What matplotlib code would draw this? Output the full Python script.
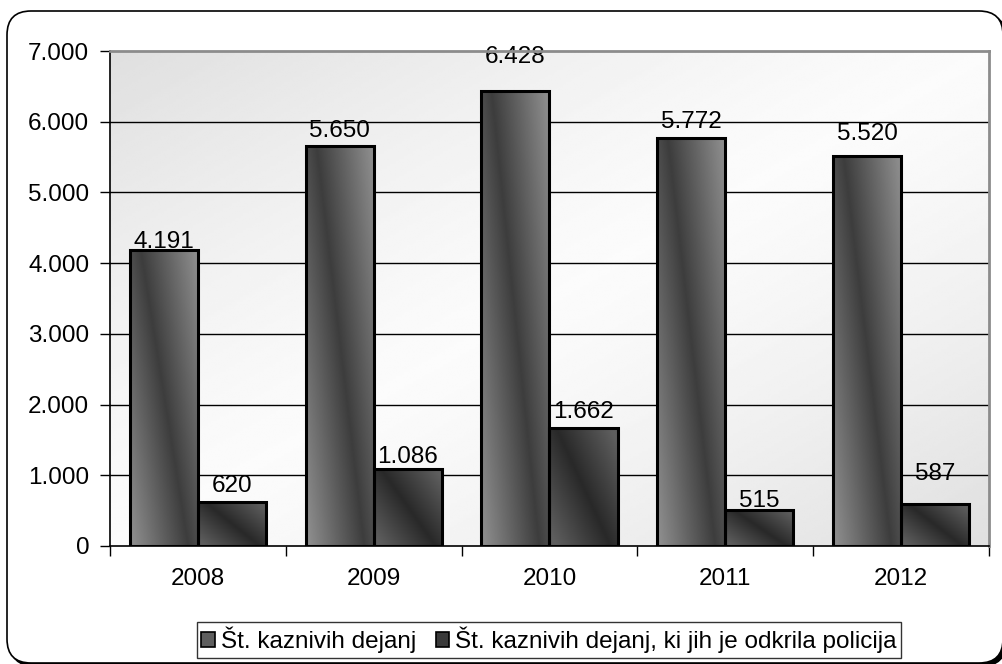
import numpy as np
import matplotlib
matplotlib.use("Agg")
import matplotlib.pyplot as plt
from matplotlib.patches import FancyBboxPatch, Rectangle
from matplotlib.transforms import IdentityTransform
from matplotlib.ticker import FuncFormatter, FixedLocator

plt.rcParams['font.family'] = ['Liberation Sans', 'DejaVu Sans']

years = ["2008", "2009", "2010", "2011", "2012"]
series_names = ["Št. kaznivih dejanj", "Št. kaznivih dejanj, ki jih je odkrila policija"]
total = [4191, 5650, 6428, 5772, 5520]
detected = [620, 1086, 1662, 515, 587]
y_ticks = [0, 1000, 2000, 3000, 4000, 5000, 6000, 7000]

# label offsets above bar top (pixels) - layout only
off_total = [2, 9, 28, 10, 16]
off_detected = [10, 6, 10, 3, 24]

FS = 17.5
W, H = 1003, 664
fig = plt.figure(figsize=(W / 100, H / 100), dpi=100)
fig.patch.set_facecolor('white')

# outer rounded frame with shadow
shadow = FancyBboxPatch((7 + 3, H - 663 - 3), 996, 652,
                        boxstyle="round,pad=0,rounding_size=24",
                        transform=IdentityTransform(), facecolor='black',
                        edgecolor='black', lw=1, zorder=0)
frame = FancyBboxPatch((7, H - 663), 996, 652,
                       boxstyle="round,pad=0,rounding_size=24",
                       transform=IdentityTransform(), facecolor='white',
                       edgecolor='black', lw=1.2, zorder=0.5)
fig.patches.extend([shadow, frame])

ax = fig.add_axes([110 / W, (H - 546) / H, 879 / W, 495 / H])
ax.set_zorder(1)
ax.set_xlim(0, 5)
ax.set_ylim(0, 7000)

# background gradient: gray at top-left / bottom-right, white at middle diagonal
nx, ny = 300, 200
u = np.linspace(0, 1, nx)[None, :]
v = np.linspace(0, 1, ny)[:, None]
d = np.abs(u + v - 1.0)
bg = 0.985 - 0.11 * d ** 1.3
ax.imshow(bg, extent=(0, 5, 0, 7000), aspect='auto', cmap='gray', vmin=0, vmax=1,
          interpolation='bilinear', zorder=0)

# grid
for t in y_ticks[1:-1]:
    ax.axhline(t, color='black', lw=1, zorder=1)

x = np.arange(len(years)) + 0.5
bw = 0.387
bars1 = ax.bar(x - bw / 2, total, width=bw, facecolor='none', edgecolor='black', lw=2.2, zorder=4)
bars2 = ax.bar(x + bw / 2, detected, width=bw, facecolor='none', edgecolor='black', lw=2.2, zorder=4)


def grad_img(dark, light, a, b, spread):
    gu = np.linspace(0, 1, 60)[None, :]
    gv = np.linspace(0, 1, 200)[:, None]
    center = a + b * gv
    dist = np.clip(np.abs(gu - center) / spread, 0, 1)
    return dark + (light - dark) * dist


img1 = grad_img(0.24, 0.55, 0.15, 0.7, 0.8)
img2 = grad_img(0.16, 0.37, 0.1, 0.8, 0.8)
for bars, img in ((bars1, img1), (bars2, img2)):
    for p in bars:
        x0, w, h = p.get_x(), p.get_width(), p.get_height()
        ax.imshow(img, extent=(x0, x0 + w, 0, h), aspect='auto', cmap='gray',
                  vmin=0, vmax=1, interpolation='bilinear', zorder=3)

# data labels
def fmt(v):
    return f"{v:,}".replace(",", ".")

for bars, vals, offs in ((bars1, total, off_total), (bars2, detected, off_detected)):
    for p, val, o in zip(bars, vals, offs):
        ax.annotate(fmt(val), (p.get_x() + p.get_width() / 2, p.get_height()),
                    xytext=(0, o * 0.72), textcoords='offset points',
                    ha='center', va='baseline', fontsize=FS, zorder=5)

# axes styling
ax.set_xlim(0, 5)
ax.set_ylim(0, 7000)
ax.yaxis.set_major_locator(FixedLocator(y_ticks))
ax.yaxis.set_major_formatter(FuncFormatter(lambda v, p: fmt(int(v))))
ax.xaxis.set_major_locator(FixedLocator(np.arange(0, 6)))
ax.xaxis.set_major_formatter(FuncFormatter(lambda v, p: ""))
ax.xaxis.set_minor_locator(FixedLocator(x))
ax.set_xticklabels(years, minor=True)
ax.tick_params(axis='x', which='major', direction='out', length=7, width=1, color='black')
ax.tick_params(axis='x', which='minor', length=0, pad=16, labelsize=FS)
ax.tick_params(axis='y', direction='out', length=7, width=1, pad=8, labelsize=FS)
for s in ('left', 'bottom'):
    ax.spines[s].set_color('black')
    ax.spines[s].set_linewidth(1.2)
for s in ('top', 'right'):
    ax.spines[s].set_color('#8c8c8c')
    ax.spines[s].set_linewidth(2)
for s in ax.spines.values():
    s.set_zorder(6)

# legend
h1 = Rectangle((0, 0), 1, 1, facecolor='#5e5e5e', edgecolor='black', lw=1.2)
h2 = Rectangle((0, 0), 1, 1, facecolor='#3a3a3a', edgecolor='black', lw=1.2)
leg = fig.legend([h1, h2], series_names, loc='center', ncol=2,
                 bbox_to_anchor=(549 / W, 1 - 640 / H), bbox_transform=fig.transFigure,
                 fontsize=FS, frameon=True, fancybox=False, edgecolor='black',
                 handlelength=0.55, handleheight=0.6, handletextpad=0.25,
                 columnspacing=0.8, borderpad=0.2, borderaxespad=0)
leg.get_frame().set_linewidth(1)
leg.set_zorder(10)

fig.savefig("out.png", dpi=100, facecolor='white')
